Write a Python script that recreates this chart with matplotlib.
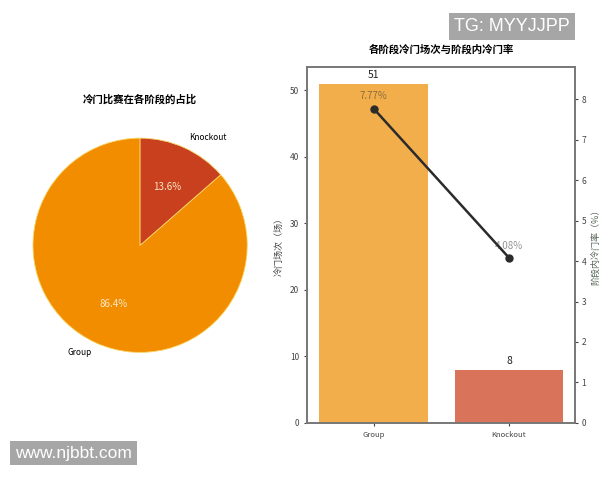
import numpy as np
import matplotlib.pyplot as plt

plt.rcParams['font.family'] = ['Noto Sans CJK SC', 'DejaVu Sans']
plt.rcParams['axes.unicode_minus'] = False

# Data
stages = ['Group', 'Knockout']
upset_counts = [51, 8]
upset_rate = [7.77, 4.08]

pie_colors = ['#F28D00', '#C8401E']
bar_colors = ['#F2AE4B', '#D9745A']

fig = plt.figure(figsize=(6, 4.8), dpi=100)

# Pie: share of upsets per stage
ax1 = fig.add_axes([0.01, 0.21, 0.447, 0.558])
wedges, texts, autotexts = ax1.pie(upset_counts, labels=stages, colors=pie_colors,
                                   autopct='%1.1f%%', startangle=90,
                                   wedgeprops={'edgecolor': '#F7D76A', 'linewidth': 0.6},
                                   textprops={'fontsize': 6})
for t in autotexts:
    t.set_color('#FBE8C8')
    t.set_fontsize(7)
ax1.set_title('冷门比赛在各阶段的占比', fontsize=7.5, fontweight='bold', pad=6)
ax1.set_aspect('equal')

# Bar + line: count and rate by stage
ax2 = fig.add_axes([0.512, 0.119, 0.447, 0.742])
x = np.arange(len(stages))
ax2.bar(x, upset_counts, color=bar_colors, width=0.8)
for xi, v in zip(x, upset_counts):
    ax2.text(xi, v + 0.6, str(v), ha='center', va='bottom', fontsize=7.5, color='#222222')
ax2.set_xticks(x)
ax2.set_xticklabels(stages, fontsize=5.5)
ax2.set_ylim(0, max(upset_counts) * 1.05)
ax2.set_ylabel('冷门场次（场）', fontsize=6.5, color='#444444')
ax2.tick_params(axis='y', labelsize=6, colors='#444444', length=2.5)
ax2.tick_params(axis='x', length=2.5, colors='#444444')
ax2.set_title('各阶段冷门场次与阶段内冷门率', fontsize=7.5, fontweight='bold', pad=10)

ax3 = ax2.twinx()
ax3.plot(x, upset_rate, color='#2B2B2B', linewidth=1.8, marker='o', markersize=5)
for xi, v in zip(x, upset_rate):
    ax3.text(xi, v + 0.18, f'{v:.2f}%', ha='center', va='bottom', fontsize=7,
             color='#2B2B2B', alpha=0.5)
ax3.set_ylim(0, max(upset_rate) * 1.133)
ax3.set_ylabel('阶段内冷门率（%）', fontsize=6.5, color='#556655', rotation=90, labelpad=3)
ax3.tick_params(axis='y', labelsize=6, colors='#444444', length=2.5, pad=2)

for ax in (ax2, ax3):
    for s in ax.spines.values():
        s.set_color('#777777')
        s.set_linewidth(1.2)

# watermarks
fig.text(0.757, 0.945, 'TG: MYYJJPP', fontsize=13, color='white', ha='left', va='center',
         family='Liberation Sans',
         bbox={'facecolor': '#A6A6A6', 'edgecolor': 'none', 'pad': 3.5})
fig.text(0.025, 0.056, 'www.njbbt.com', fontsize=12.5, color='white', ha='left', va='center',
         family='Liberation Sans',
         bbox={'facecolor': '#A6A6A6', 'edgecolor': 'none', 'pad': 3.5})

fig.savefig('out.png', dpi=100)
